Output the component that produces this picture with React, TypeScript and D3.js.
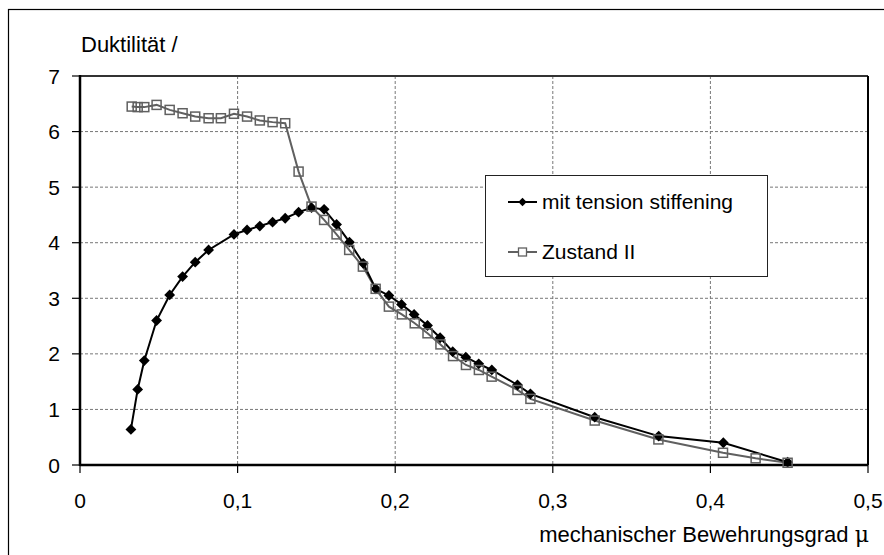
import React from "react";
import * as d3 from "d3";

const tsX = [0.0323, 0.0366, 0.0408, 0.0486, 0.0569, 0.0651, 0.0731, 0.0816, 0.0977, 0.106, 0.1141, 0.1222, 0.1302, 0.1387, 0.1469, 0.1549, 0.1628, 0.171, 0.1797, 0.1877, 0.196, 0.204, 0.212, 0.2205, 0.2285, 0.2365, 0.2448, 0.253, 0.2613, 0.2776, 0.2858, 0.3266, 0.3672, 0.4082, 0.449];
const tsY = [0.64, 1.36, 1.88, 2.6, 3.06, 3.39, 3.65, 3.87, 4.15, 4.23, 4.3, 4.37, 4.44, 4.55, 4.63, 4.6, 4.33, 4.01, 3.63, 3.17, 3.05, 2.89, 2.71, 2.51, 2.29, 2.04, 1.94, 1.82, 1.71, 1.44, 1.28, 0.86, 0.52, 0.4, 0.05];

const z2X = [0.0328, 0.0366, 0.0408, 0.0486, 0.0569, 0.0651, 0.0731, 0.0816, 0.0894, 0.0977, 0.106, 0.1141, 0.1222, 0.1302, 0.1387, 0.1469, 0.1549, 0.1628, 0.1708, 0.1795, 0.1876, 0.196, 0.2042, 0.2124, 0.2205, 0.2287, 0.2367, 0.2449, 0.2531, 0.2612, 0.2776, 0.2858, 0.3266, 0.367, 0.408, 0.4287, 0.449];
const z2Y = [6.45, 6.44, 6.44, 6.48, 6.39, 6.33, 6.27, 6.24, 6.24, 6.32, 6.27, 6.2, 6.17, 6.15, 5.28, 4.65, 4.41, 4.15, 3.87, 3.57, 3.17, 2.85, 2.71, 2.55, 2.37, 2.17, 1.96, 1.8, 1.71, 1.59, 1.35, 1.19, 0.8, 0.46, 0.22, 0.12, 0.04];

const xTicks = [0, 0.1, 0.2, 0.3, 0.4, 0.5];
const yTicks = [0, 1, 2, 3, 4, 5, 6, 7];
const seriesNames = ["mit tension stiffening", "Zustand II"];

const W = 884, H = 555;
const L = 80, R = 868, T = 76, B = 465;
const FONT = "'Liberation Sans', Arial, sans-serif";

export default function App() {
  const x = d3.scaleLinear().domain([0, 0.5]).range([L, R]);
  const y = d3.scaleLinear().domain([0, 7]).range([B, T]);
  const line = d3.line<[number, number]>().x(d => x(d[0])).y(d => y(d[1]));
  const ts: [number, number][] = tsX.map((v, i) => [v, tsY[i]]);
  const z2: [number, number][] = z2X.map((v, i) => [v, z2Y[i]]);
  const diamond = (cx: number, cy: number, r = 5.4) => `M${cx},${cy - r}L${cx + r},${cy}L${cx},${cy + r}L${cx - r},${cy}Z`;
  const gray = "#606060";
  return (
    <svg width={W} height={H} style={{ position: "absolute", left: 0, top: 0 }} fontFamily={FONT}>
      <rect x={0} y={0} width={W} height={H} fill="#fff" />
      <rect x={8.5} y={9.5} width={W + 10} height={H + 10} fill="none" stroke="#000" strokeWidth={1.2} />
      {yTicks.filter(t => t > 0 && t < 7).map(t => (
        <line key={"gy" + t} x1={L} x2={R} y1={y(t)} y2={y(t)} stroke="#777" strokeWidth={1} strokeDasharray="3,2" />
      ))}
      {xTicks.filter(t => t > 0 && t < 0.5).map(t => (
        <line key={"gx" + t} x1={x(t)} x2={x(t)} y1={T} y2={B} stroke="#777" strokeWidth={1} strokeDasharray="3,2" />
      ))}
      <line x1={L} x2={R} y1={T} y2={T} stroke="#333" strokeWidth={2} />
      <line x1={R} x2={R} y1={T} y2={B} stroke="#000" strokeWidth={2} />
      <line x1={L} x2={L} y1={T - 1} y2={B + 1} stroke="#000" strokeWidth={2.5} />
      <line x1={L} x2={R} y1={B} y2={B} stroke="#000" strokeWidth={2.5} />
      {yTicks.map(t => (
        <g key={"yt" + t}>
          <line x1={L - 8} x2={L} y1={y(t)} y2={y(t)} stroke="#000" strokeWidth={1.2} />
          <text x={60} y={y(t) + 7.5} fontSize={21} textAnchor="end" fill="#000">{t}</text>
        </g>
      ))}
      {xTicks.map(t => (
        <g key={"xt" + t}>
          <line x1={x(t)} x2={x(t)} y1={B} y2={B + 8} stroke="#000" strokeWidth={1.2} />
          <text x={x(t)} y={508} fontSize={21} textAnchor="middle" fill="#000">{String(t).replace(".", ",")}</text>
        </g>
      ))}
      <text x={81} y={52} fontSize={22} fill="#000">Duktilität /</text>
      <text x={869} y={542} fontSize={22} textAnchor="end" fill="#000">mechanischer Bewehrungsgrad <tspan fontFamily="'DejaVu Serif', serif">μ</tspan></text>
      <path d={line(z2) || ""} fill="none" stroke={gray} strokeWidth={2} />
      <path d={line(ts) || ""} fill="none" stroke="#000" strokeWidth={2} />
      {ts.map((d, i) => (
        <path key={"d" + i} d={diamond(x(d[0]), y(d[1]))} fill="#000" />
      ))}
      {z2.map((d, i) => (
        <rect key={"s" + i} x={x(d[0]) - 4.5} y={y(d[1]) - 4.5} width={9} height={9} fill="none" stroke={gray} strokeWidth={1.5} />
      ))}
      <rect x={485.5} y={175.5} width={282} height={101} fill="#fff" stroke="#222" strokeWidth={1} />
      <line x1={508} x2={537} y1={202} y2={202} stroke="#000" strokeWidth={2} />
      <path d={diamond(522.5, 202, 4.2)} fill="#000" />
      <text x={542} y={209} fontSize={21} fill="#000">{seriesNames[0]}</text>
      <line x1={508} x2={537} y1={252} y2={252} stroke={gray} strokeWidth={2} />
      <rect x={518.5} y={248} width={8} height={8} fill="#fff" stroke={gray} strokeWidth={1.3} />
      <text x={542} y={259} fontSize={21} fill="#000">{seriesNames[1]}</text>
    </svg>
  );
}
